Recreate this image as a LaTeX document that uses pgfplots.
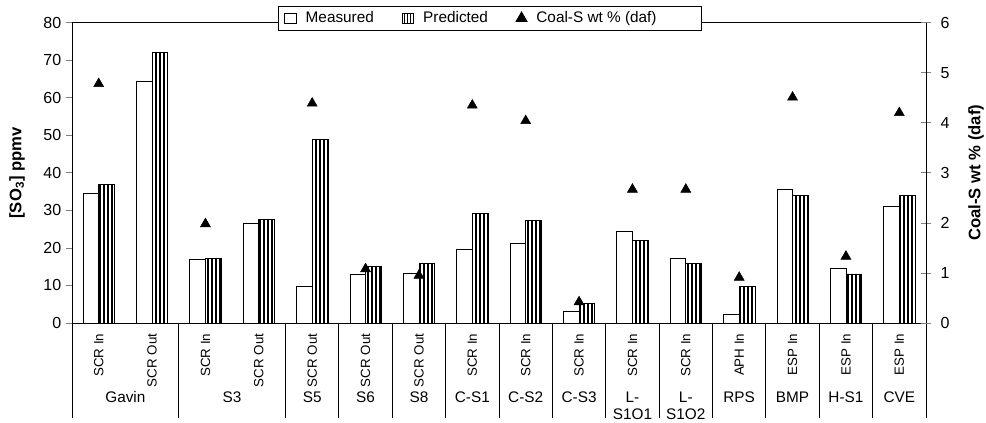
\documentclass[border=0pt]{standalone}
\usepackage{fontspec}
\setmainfont{Liberation Sans}
\usepackage{pgfplots}
\usepackage{pgfplotstable}
\pgfplotsset{compat=1.18}
\usetikzlibrary{patterns.meta}

\pgfplotstableread{
x meas pred coal
1 34.6 37.0 4.78
2 64.3 72.1 nan
3 17.0 17.2 1.98
4 26.5 27.6 nan
5 9.9 48.9 4.39
6 13.1 15.0 1.08
7 13.3 15.8 0.95
8 19.7 29.2 4.35
9 21.1 27.3 4.04
10 3.1 5.2 0.42
11 24.4 22.1 2.67
12 17.2 15.8 2.67
13 2.2 9.7 0.91
14 35.7 34.0 4.51
15 14.5 13.1 1.33
16 31.1 34.0 4.20
}\datatable

\begin{document}
\begin{tikzpicture}
\useasboundingbox (0,0) rectangle (739.5pt,316.5pt);
\begin{axis}[
  width=640.5pt, height=225.2pt, scale only axis,
  at={(54pt,74.25pt)}, anchor=south west,
  xmin=0.5, xmax=16.5, ymin=0, ymax=80,
  ytick={0,10,...,80}, ytick pos=left, y tick style={line width=0.6pt},
  tick align=outside, major tick length=4.5pt,
  xtick={1,...,16},
  xticklabels={SCR In,SCR Out,SCR In,SCR Out,SCR Out,SCR Out,SCR Out,SCR In,SCR In,SCR In,SCR In,SCR In,APH In,ESP In,ESP In,ESP In},
  x tick style={draw=none},
  x tick label style={rotate=90, anchor=east, font=\fontsize{10}{12}\selectfont},
  y tick label style={font=\fontsize{12}{14}\selectfont},
  /pgf/number format/assume math mode=true,
  axis line style={line width=0.6pt},
  clip=false,
  ylabel={\textbf{[SO\textsubscript{3}] ppmv}},
  ylabel style={at={(axis description cs:-0.0644,0.5)}, anchor=center, font=\fontsize{12.5}{15}\selectfont},
  legend columns=3,
  legend style={at={(0.2412,1.0556)}, anchor=north west, draw=black, line width=0.6pt, fill=white,
    font=\fontsize{11.5}{13}\selectfont, inner ysep=2pt, inner xsep=4pt,
    /tikz/every odd column/.append style={column sep=5pt},
    /tikz/every even column/.append style={column sep=19pt}},
]
\addplot[draw=black, fill=white, line width=0.5pt, ybar, bar width=0.294, bar shift=-0.147,
  legend image code/.code={\draw[draw=black,fill=white,line width=0.5pt] (0pt,-3.5pt) rectangle (9pt,3.5pt);}]
  table[x=x,y=meas]{\datatable};
\addlegendentry{Measured}
\addplot[draw=black, line width=0.5pt, pattern={Lines[angle=90,distance=3pt,line width=1.3pt]}, ybar, bar width=0.294, bar shift=0.147,
  legend image code/.code={\draw[draw=black,line width=0.5pt,pattern={Lines[angle=90,distance=2.2pt,line width=1pt]}] (0pt,-3.5pt) rectangle (8pt,3.5pt);}]
  table[x=x,y=pred]{\datatable};
\addlegendentry{Predicted}
\addlegendimage{only marks, mark=triangle*, mark size=4.8pt, mark options={fill=black,draw=black}}
\addlegendentry{\makebox[118pt][l]{Coal-S wt \% (daf)}}

\pgfplotsinvokeforeach{0.5,2.5,4.5,5.5,6.5,7.5,8.5,9.5,10.5,11.5,12.5,13.5,14.5,15.5,16.5}{
  \draw[line width=0.6pt] (axis cs:#1,0) -- ++(0pt,-71.25pt);
}
\begin{scope}[every node/.style={anchor=base, font=\fontsize{11.5}{13}\selectfont, inner sep=0pt}]
\node[yshift=-59.3pt] at (axis cs:1.5,0) {Gavin};
\node[yshift=-59.3pt] at (axis cs:3.5,0) {S3};
\node[yshift=-59.3pt] at (axis cs:5,0) {S5};
\node[yshift=-59.3pt] at (axis cs:6,0) {S6};
\node[yshift=-59.3pt] at (axis cs:7,0) {S8};
\node[yshift=-59.3pt] at (axis cs:8,0) {C-S1};
\node[yshift=-59.3pt] at (axis cs:9,0) {C-S2};
\node[yshift=-59.3pt] at (axis cs:10,0) {C-S3};
\node[yshift=-59.3pt] at (axis cs:11,0) {L-};
\node[yshift=-72.7pt] at (axis cs:11,0) {S1O1};
\node[yshift=-59.3pt] at (axis cs:12,0) {L-};
\node[yshift=-72.7pt] at (axis cs:12,0) {S1O2};
\node[yshift=-59.3pt] at (axis cs:13,0) {RPS};
\node[yshift=-59.3pt] at (axis cs:14,0) {BMP};
\node[yshift=-59.3pt] at (axis cs:15,0) {H-S1};
\node[yshift=-59.3pt] at (axis cs:16,0) {CVE};
\end{scope}
\end{axis}

\begin{axis}[
  width=640.5pt, height=225.2pt, scale only axis,
  at={(54pt,74.25pt)}, anchor=south west,
  xmin=0.5, xmax=16.5, ymin=0, ymax=6,
  axis x line=none, axis y line*=right,
  ytick={0,1,...,6},
  tick align=center, major tick length=8pt, y tick style={line width=0.6pt},
  axis line style={line width=0.6pt},
  y tick label style={font=\fontsize{12}{14}\selectfont, xshift=3.5pt},
  /pgf/number format/assume math mode=true,
  clip=false,
  ylabel={\textbf{Coal-S wt \% (daf)}},
  ylabel style={at={(axis description cs:1.0585,0.5)}, anchor=center, font=\fontsize{12.5}{15}\selectfont},
]
\addplot[only marks, mark=triangle*, mark size=4.3pt, mark options={fill=black,draw=black}]
  table[x=x,y=coal]{\datatable};
\end{axis}
\end{tikzpicture}
\end{document}
